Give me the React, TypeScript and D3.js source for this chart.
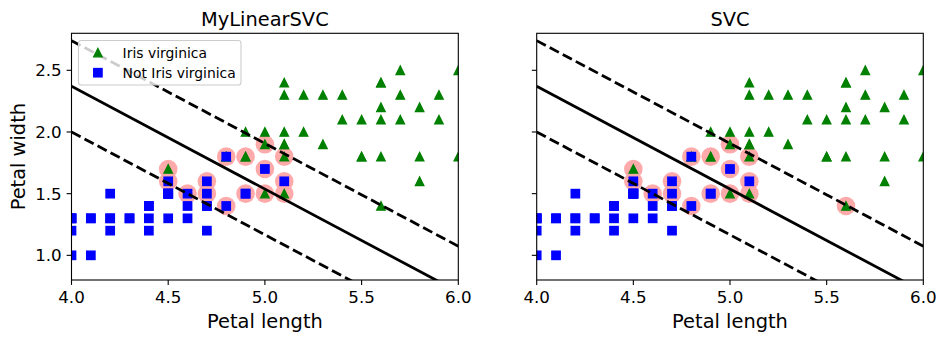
import React from "react";
import * as d3 from "d3";

// Iris versicolor (class "Not Iris virginica") petal length / width
const versicolorLength = [4.7, 4.5, 4.9, 4.0, 4.6, 4.5, 4.7, 3.3, 4.6, 3.9, 3.5, 4.2, 4.0, 4.7, 3.6, 4.4, 4.5, 4.1, 4.5, 3.9, 4.8, 4.0, 4.9, 4.7, 4.3, 4.4, 4.8, 5.0, 4.5, 3.5, 3.8, 3.7, 3.9, 5.1, 4.5, 4.5, 4.7, 4.4, 4.1, 4.0, 4.4, 4.6, 4.0, 3.3, 4.2, 4.2, 4.2, 4.3, 3.0, 4.1];
const versicolorWidth = [1.4, 1.5, 1.5, 1.3, 1.5, 1.3, 1.6, 1.0, 1.3, 1.4, 1.0, 1.5, 1.0, 1.4, 1.3, 1.4, 1.5, 1.0, 1.5, 1.1, 1.8, 1.3, 1.5, 1.2, 1.3, 1.4, 1.4, 1.7, 1.5, 1.0, 1.1, 1.0, 1.2, 1.6, 1.5, 1.6, 1.5, 1.3, 1.3, 1.3, 1.2, 1.4, 1.2, 1.0, 1.3, 1.2, 1.3, 1.3, 1.1, 1.3];
// Iris virginica petal length / width
const virginicaLength = [6.0, 5.1, 5.9, 5.6, 5.8, 6.6, 4.5, 6.3, 5.8, 6.1, 5.1, 5.3, 5.5, 5.0, 5.1, 5.3, 5.5, 6.7, 6.9, 5.0, 5.7, 4.9, 6.7, 4.9, 5.7, 6.0, 4.8, 4.9, 5.6, 5.8, 6.1, 6.4, 5.6, 5.1, 5.6, 6.1, 5.6, 5.5, 4.8, 5.4, 5.6, 5.1, 5.1, 5.9, 5.7, 5.2, 5.0, 5.2, 5.4, 5.1];
const virginicaWidth = [2.5, 1.9, 2.1, 1.8, 2.2, 2.1, 1.7, 1.8, 1.8, 2.5, 2.0, 1.9, 2.1, 2.0, 2.4, 2.3, 1.8, 2.2, 2.3, 1.5, 2.3, 2.0, 2.0, 1.8, 2.1, 1.8, 1.8, 1.8, 2.1, 1.6, 1.9, 2.0, 2.2, 1.5, 1.4, 2.3, 2.4, 1.8, 1.8, 2.1, 2.4, 2.3, 1.9, 2.3, 2.5, 2.3, 1.9, 2.0, 2.3, 1.8];

// Support vectors (highlighted)
const svLinearLength = [4.5, 4.5, 4.6, 4.7, 4.7, 4.8, 4.8, 4.9, 4.9, 5.0, 5.0, 5.0, 5.1, 5.1, 5.1];
const svLinearWidth = [1.7, 1.6, 1.5, 1.6, 1.5, 1.8, 1.4, 1.8, 1.5, 1.9, 1.7, 1.5, 1.8, 1.6, 1.5];
const svSvcLength = [4.5, 4.5, 4.6, 4.7, 4.7, 4.8, 4.8, 4.9, 4.9, 5.0, 5.0, 5.0, 5.1, 5.1, 5.1, 5.6];
const svSvcWidth = [1.7, 1.6, 1.5, 1.6, 1.5, 1.8, 1.4, 1.8, 1.5, 1.9, 1.7, 1.5, 1.8, 1.6, 1.5, 1.4];

// Model parameters (decision function w·x + b)
const linearWeights = [2.25, 2.70];
const linearBias = -15.40;
const svcWeights = [2.25, 2.70];
const svcBias = -15.40;

const xTicks = [4.0, 4.5, 5.0, 5.5, 6.0];
const yTicks = [1.0, 1.5, 2.0, 2.5];
const xDomain = [4, 6];
const yDomain = [0.8, 2.8];
const panelTitles = ["MyLinearSVC", "SVC"];
const legendLabels = ["Iris virginica", "Not Iris virginica"];

const FONT = "DejaVu Sans, sans-serif";
const W = 946;
const H = 342;
const TOP = 33.3;
const BOTTOM = 280;
const PANEL_X = [[71.5, 458.3], [536.7, 923.3]];
const MS = 8.33; // marker size px

function tri(cx: number, cy: number) {
  const h = MS / 2;
  return `M${cx},${cy - h}L${cx - h},${cy + h}L${cx + h},${cy + h}Z`;
}

function Panel({ idx, svL, svW, w, b, showYLabels, legend }: any) {
  const [x0, x1] = PANEL_X[idx];
  const x = d3.scaleLinear().domain(xDomain).range([x0, x1]);
  const y = d3.scaleLinear().domain(yDomain).range([BOTTOM, TOP]);
  const clipId = `clip${idx}`;
  const lineGen = d3.line<[number, number]>().x((d) => x(d[0])).y((d) => y(d[1]));
  const xs = [xDomain[0], xDomain[1]];
  const boundary = (v: number) => (-w[0] / w[1]) * v - b / w[1];
  const margin = 1 / w[1];
  const solid = xs.map((v) => [v, boundary(v)] as [number, number]);
  const up = xs.map((v) => [v, boundary(v) + margin] as [number, number]);
  const down = xs.map((v) => [v, boundary(v) - margin] as [number, number]);
  const dash = "10.3,4.45";
  const cx = (x0 + x1) / 2;
  return (
    <g>
      <defs>
        <clipPath id={clipId}>
          <rect x={x0} y={TOP} width={x1 - x0} height={BOTTOM - TOP} />
        </clipPath>
      </defs>
      <g clipPath={`url(#${clipId})`}>
        {svL.map((v: number, i: number) => (
          <circle key={"sv" + i} cx={x(v)} cy={y(svW[i])} r={9.3} fill="#FFAAAA" />
        ))}
        {virginicaLength.map((v, i) => (
          <path key={"g" + i} d={tri(x(v), y(virginicaWidth[i]))} fill="#008000" stroke="#008000" strokeWidth={1.39} strokeLinejoin="miter" />
        ))}
        {versicolorLength.map((v, i) => (
          <rect key={"b" + i} x={x(v) - MS / 2} y={y(versicolorWidth[i]) - MS / 2} width={MS} height={MS} fill="#0000FF" stroke="#0000FF" strokeWidth={1.39} />
        ))}
        <path d={lineGen(solid) || ""} stroke="#000" strokeWidth={2.78} fill="none" />
        <path d={lineGen(up) || ""} stroke="#000" strokeWidth={2.78} fill="none" strokeDasharray={dash} />
        <path d={lineGen(down) || ""} stroke="#000" strokeWidth={2.78} fill="none" strokeDasharray={dash} />
      </g>
      <rect x={x0} y={TOP} width={x1 - x0} height={BOTTOM - TOP} fill="none" stroke="#000" strokeWidth={1.1} />
      {xTicks.map((t) => (
        <g key={"xt" + t}>
          <line x1={x(t)} x2={x(t)} y1={BOTTOM} y2={BOTTOM + 4.9} stroke="#000" strokeWidth={1.1} />
          <text x={x(t)} y={302.5} textAnchor="middle" fontSize={16.7} fontFamily={FONT} fill="#000">
            {t.toFixed(1)}
          </text>
        </g>
      ))}
      {yTicks.map((t) => (
        <g key={"yt" + t}>
          <line x1={x0} x2={x0 - 4.9} y1={y(t)} y2={y(t)} stroke="#000" strokeWidth={1.1} />
          {showYLabels && (
            <text x={x0 - 9.8} y={y(t)} dy="0.36em" textAnchor="end" fontSize={16.7} fontFamily={FONT} fill="#000">
              {t.toFixed(1)}
            </text>
          )}
        </g>
      ))}
      <text x={cx} y={327.5} textAnchor="middle" fontSize={19.4} fontFamily={FONT} fill="#000">
        Petal length
      </text>
      <text x={cx} y={25.5} textAnchor="middle" fontSize={19.4} fontFamily={FONT} fill="#000">
        {panelTitles[idx]}
      </text>
      {showYLabels && (
        <text transform={`translate(24.5,${(TOP + BOTTOM) / 2}) rotate(-90)`} textAnchor="middle" fontSize={19.4} fontFamily={FONT} fill="#000">
          Petal width
        </text>
      )}
      {legend && (
        <g>
          <rect x={78.5} y={40.5} width={162.5} height={44.5} rx={2.8} ry={2.8} fill="#fff" fillOpacity={0.8} stroke="#cccccc" strokeWidth={1.1} />
          <path d={tri(97.9, 52.7)} fill="#008000" stroke="#008000" strokeWidth={1.39} />
          <rect x={97.9 - MS / 2} y={72.7 - MS / 2} width={MS} height={MS} fill="#0000FF" stroke="#0000FF" strokeWidth={1.39} />
          <text x={122.6} y={52.7} dy="0.36em" fontSize={13.9} fontFamily={FONT} fill="#000">
            {legendLabels[0]}
          </text>
          <text x={122.6} y={72.7} dy="0.36em" fontSize={13.9} fontFamily={FONT} fill="#000">
            {legendLabels[1]}
          </text>
        </g>
      )}
    </g>
  );
}

export default function App() {
  return (
    <svg width={W} height={H} style={{ position: "absolute", left: 0, top: 0, background: "#fff" }}>
      <rect width={W} height={H} fill="#fff" />
      <Panel idx={0} svL={svLinearLength} svW={svLinearWidth} w={linearWeights} b={linearBias} showYLabels legend />
      <Panel idx={1} svL={svSvcLength} svW={svSvcWidth} w={svcWeights} b={svcBias} showYLabels={false} legend={false} />
    </svg>
  );
}
